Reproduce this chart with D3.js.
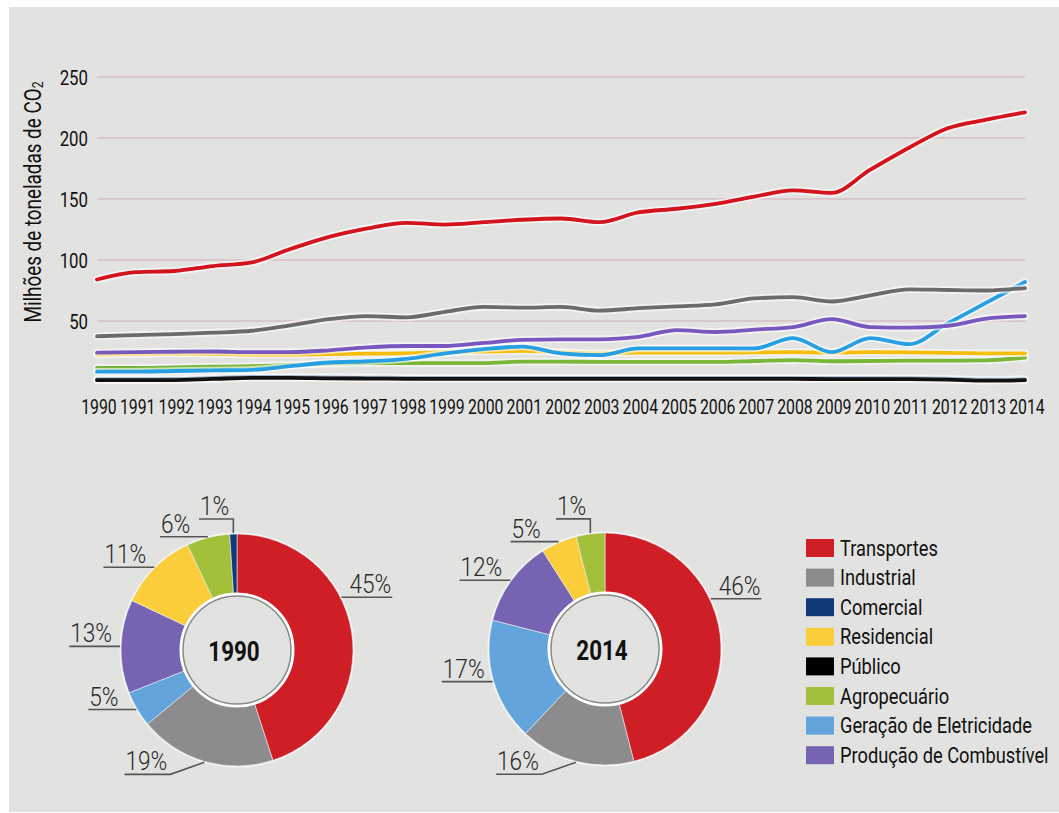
<!DOCTYPE html>
<html lang="pt">
<head>
<meta charset="utf-8">
<title>Emissões de CO2 por setor</title>
<style>
  html,body { margin:0; padding:0; background:#fff; }
  svg { display:block; }
  text { font-family: Roboto, "Noto Sans", sans-serif; }
</style>
<script src="https://d3js.org/d3.v7.min.js"></script>
</head>
<body>
<svg width="1059" height="813"></svg>
<script>
// sectors, in legend order
const categories = ["Transportes", "Industrial", "Comercial", "Residencial", "Público",
                    "Agropecuário", "Geração de Eletricidade", "Produção de Combustível"];
const years = d3.range(1990, 2015);
const yTicks = [50, 100, 150, 200, 250];

// Mt CO2
const transportes  = [84, 90, 91, 95, 98, 109, 119, 126, 130.5, 129, 131, 133, 134, 131, 139, 142, 146, 152, 157, 155, 174, 192, 208, 215, 221];
const industrial   = [37.5, 38.5, 39.3, 40.4, 42, 46.5, 51.5, 54, 53, 57.5, 61.5, 61, 61.5, 58.5, 60.5, 62, 63.7, 68.5, 69.5, 66, 71, 76, 75.4, 75, 77];
const comercial    = [2.4, 2.4, 2.5, 3.3, 4.2, 4.2, 3.8, 3.6, 3.4, 3.3, 3.3, 3.3, 3.3, 3.3, 3.3, 3.3, 3.3, 3.3, 3.3, 3.2, 3.2, 3.1, 2.7, 1.9, 2.3];
const residencial  = [22.5, 23, 23.3, 23, 22.5, 22.5, 22.8, 23.2, 23.5, 24.5, 25, 25.5, 24.5, 23.5, 24, 24, 24, 24.3, 24.5, 24, 24.5, 24.3, 23.8, 23.5, 23.5];
const publico      = [1.5, 1.5, 1.6, 2.5, 3.4, 3.4, 3, 2.8, 2.6, 2.5, 2.5, 2.5, 2.5, 2.5, 2.5, 2.5, 2.5, 2.5, 2.5, 2.4, 2.4, 2.3, 1.9, 1.1, 1.5];
const agropecuario = [11.5, 11.5, 12, 12.5, 13, 14, 15, 15.5, 15.5, 15.5, 15.5, 16.7, 16.7, 16.5, 16.5, 16.5, 16.5, 17.2, 18, 17, 17.2, 17.5, 17.5, 17.8, 20];
const eletricidade = [8.5, 8.5, 9, 9.5, 10, 13, 16, 17, 19, 23.5, 27, 29, 23.5, 22, 27.5, 27.5, 27.5, 27.5, 36, 24.5, 36, 31, 48, 65, 82];
const combustivel  = [24, 24.5, 24.8, 25, 24.5, 24.5, 26, 28.4, 29.5, 29.5, 32, 34.5, 35, 35, 37, 42.5, 41, 43, 45, 51.5, 45, 44.5, 46, 52, 54];

// percent shares (category order) and the printed labels
const share1990  = [45, 19, 1, 11, 0, 6, 5, 13];
const share2014  = [46, 16, 0, 5, 0, 4, 17, 12];
const labels1990 = ["45%", "19%", "1%", "11%", "", "6%", "5%", "13%"];
const labels2014 = ["46%", "16%", "", "5%", "", "1%", "17%", "12%"];
const pieOrder = [0, 1, 6, 7, 3, 5, 2, 4]; // clockwise from 12 o'clock

const lineColors = ["#d3141c", "#6b6b6b", "#0b3c7d", "#f6bd0a", "#111111", "#7ab738", "#27a0e3", "#7857bf"];
const pieColors  = ["#cf1e25", "#8c8c8e", "#103a7a", "#fbcd3a", "#000000", "#a2c03a", "#64a4dc", "#7664b3"];

const series = [transportes, industrial, comercial, residencial, publico, agropecuario, eletricidade, combustivel];
const drawOrder = [2, 4, 5, 3, 6, 7, 1, 0];

const svg = d3.select("svg");
const bg = "#e2e2e0";
// Roboto squeezed horizontally to look like the condensed face of the original
const tr = (x, y, s) => `translate(${x},${y}) scale(${s},1)`;

svg.append("rect").attr("x", 9).attr("y", 7).attr("width", 1050).attr("height", 805).attr("fill", bg);

// ---------- line chart ----------
const x = d3.scalePoint().domain(years).range([97, 1025]);
const y = d3.scaleLinear().domain([0, 250]).range([382, 77]);

svg.append("g").selectAll("line").data(yTicks).join("line")
  .attr("x1", 97).attr("x2", 1025)
  .attr("y1", d => y(d)).attr("y2", d => y(d))
  .attr("stroke", "#d8c7cb").attr("stroke-width", 2);

svg.append("g").selectAll("text").data(yTicks).join("text")
  .attr("transform", d => tr(88, y(d) + 7.5, 0.8))
  .attr("text-anchor", "end").attr("font-size", 21).attr("fill", "#111")
  .text(d => d);

svg.append("g").selectAll("text").data(years).join("text")
  .attr("transform", d => tr(x(d) + 2, 414, 0.81))
  .attr("text-anchor", "middle").attr("font-size", 19.5).attr("fill", "#111")
  .text(d => d);

const yt = svg.append("text")
  .attr("transform", "translate(41,202) rotate(-90) scale(0.82,1)")
  .attr("text-anchor", "middle").attr("font-size", 23).attr("fill", "#111");
yt.append("tspan").text("Milhões de toneladas de CO");
yt.append("tspan").attr("font-size", 15).attr("dy", 2).text("2");

const line = d3.line().x((d, i) => x(years[i])).y(d => y(d)).curve(d3.curveMonotoneX);
const lg = svg.append("g").attr("fill", "none").attr("stroke-linejoin", "round").attr("stroke-linecap", "round");
drawOrder.forEach(k => {
  lg.append("path").attr("d", line(series[k]))
    .attr("stroke", "#fff").attr("stroke-opacity", 0.6).attr("stroke-width", 7.5);
  lg.append("path").attr("d", line(series[k]))
    .attr("stroke", lineColors[k]).attr("stroke-width", 3.8);
});

// ---------- donuts ----------
function donut(cx, cy, shares, labels, title) {
  const rOut = 116, rIn = 55, sx = 0.87;
  const items = pieOrder.map(k => ({k, v: shares[k], label: labels[k]}));
  const arcs = d3.pie().sort(null).value(d => d.v)(items).filter(a => a.data.v > 0);
  const arc = d3.arc().innerRadius(rIn).outerRadius(rOut);
  const g = svg.append("g").attr("transform", `translate(${cx},${cy})`);

  g.append("circle").attr("r", rOut + 1.5).attr("fill", "#fff").attr("opacity", 0.7);
  g.selectAll("path").data(arcs).join("path")
    .attr("d", arc).attr("fill", d => pieColors[d.data.k])
    .attr("stroke", "#ececec").attr("stroke-width", 0.6);
  g.append("circle").attr("r", rIn + 1).attr("fill", "none").attr("stroke", "#fff").attr("stroke-width", 3);
  g.append("circle").attr("r", rIn - 1).attr("fill", bg).attr("stroke", "#8a8a8a").attr("stroke-width", 1.5);
  g.append("text").attr("transform", tr(-3, 11, 0.8)).attr("text-anchor", "middle")
    .attr("font-size", 28).attr("font-weight", "bold").attr("fill", "#111").text(title);

  // leader lines + percentages
  arcs.forEach(a => {
    const span = a.endAngle - a.startAngle;
    const m = a.startAngle + span * (span > Math.PI / 2 ? 0.39 : 0.5);
    const ux = Math.sin(m), uy = -Math.cos(m);
    const px = (rOut + 1) * ux, py = (rOut + 1) * uy;
    const t = g.append("text").attr("font-size", 26).attr("font-weight", 300)
      .attr("fill", "#2a2a2a").text(a.data.label);
    const tw = t.node().getComputedTextLength() * sx;
    let pts;
    if (Math.abs(ux) < 0.15) {
      const ey = py - 14;
      pts = [[px, py], [px, ey], [px - tw - 5, ey]];
    } else if (uy > 0.8) {
      const dir = ux < 0 ? -1 : 1;
      const ex = px + dir * 34, ey = py + 12;
      pts = [[px, py], [ex, ey], [ex + dir * (tw + 4), ey]];
    } else {
      const w = Math.max(tw + 9, 48);
      pts = [[px, py], [px + (ux < 0 ? -w : w), py]];
    }
    const end = pts[pts.length - 1];
    const left = end[0] < pts[pts.length - 2][0];
    t.attr("transform", tr(end[0] + (left ? 1 : -1), end[1] - 4, sx)).attr("text-anchor", left ? "start" : "end");
    g.append("path").attr("d", d3.line()(pts))
      .attr("fill", "none").attr("stroke", "#555").attr("stroke-width", 1.6);
  });
}

donut(237, 650, share1990, labels1990, "1990");
donut(605, 649, share2014, labels2014, "2014");

// ---------- legend ----------
const leg = svg.append("g").attr("transform", "translate(806,539)");
const row = leg.selectAll("g").data(categories).join("g")
  .attr("transform", (d, i) => `translate(0,${i * 29.6})`);
row.append("rect").attr("width", 28).attr("height", 18).attr("fill", (d, i) => pieColors[i]);
row.append("text").attr("transform", tr(34, 16.5, 0.83))
  .attr("font-size", 22).attr("fill", "#111").text(d => d);
</script>
</body>
</html>
